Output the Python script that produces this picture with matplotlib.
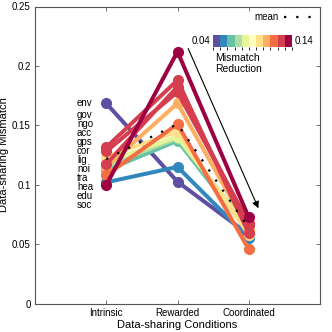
import matplotlib
matplotlib.use("Agg")
import matplotlib.pyplot as plt
import numpy as np
from matplotlib.colors import ListedColormap, BoundaryNorm
import matplotlib as mpl

plt.rcParams['font.family'] = ['Liberation Sans', 'DejaVu Sans']

conditions = ["Intrinsic", "Rewarded", "Coordinated"]
sectors = ["env", "gov", "ngo", "acc", "gps", "cor", "lig", "noi", "tra", "hea", "edu", "soc"]

# each line: mismatch at Intrinsic, Rewarded, Coordinated
intrinsic   = [0.1685, 0.102, 0.112, 0.116, 0.119, 0.1236, 0.115, 0.108, 0.1315, 0.1174, 0.128, 0.0997]
rewarded    = [0.1025, 0.115, 0.137, 0.139, 0.1405, 0.1446, 0.1685, 0.151, 0.188, 0.1825, 0.178, 0.212]
coordinated = [0.058, 0.055, 0.060, 0.064, 0.062, 0.058, 0.062, 0.0456, 0.059, 0.066, 0.068, 0.0725]
reduction   = [0.0445, 0.0536, 0.0627, 0.0718, 0.0809, 0.0991, 0.1082, 0.1173, 0.1264, 0.1264, 0.1264, 0.1355]
mean_vals   = [0.1216, 0.151, 0.0635]

spectral11 = ["#5e4fa2", "#3288bd", "#66c2a5", "#abdda4", "#e6f598", "#ffffbf",
              "#fee08b", "#fdae61", "#f46d43", "#d53e4f", "#9e0142"]
cmap = ListedColormap(spectral11)
norm = BoundaryNorm(np.linspace(0.04, 0.14, 12), cmap.N)

fig = plt.figure(figsize=(3.32, 3.32), dpi=100)
ax = fig.add_axes([35/332, (332-303.5)/332, 285/332, 297/332])

xs = np.arange(1, 4)
order = np.argsort(reduction, kind="stable")
for i in order:
    ys = [intrinsic[i], rewarded[i], coordinated[i]]
    c = cmap(norm(reduction[i]))
    ax.plot(xs, ys, color=c, lw=2.9, marker='o', ms=7, solid_capstyle='round', zorder=2 + i * 0.01)

ax.plot(xs, mean_vals, color='black', lw=1.6, linestyle=(0, (1, 4.5)), zorder=5, label='mean')

# sector labels
lab_x = 0.59
ys_lab = [intrinsic[0]] + list(0.159 - 0.0076 * np.arange(len(sectors) - 1))
for name, yl in zip(sectors, ys_lab):
    ax.text(lab_x, yl, name, fontsize=7, ha='left', va='center', zorder=6)

ax.annotate("", xy=(3.136, 0.0801), xytext=(2.15, 0.2146),
            arrowprops=dict(arrowstyle='-|>', color='black', lw=0.8,
                            mutation_scale=10, shrinkA=0, shrinkB=0), zorder=6)

ax.set_xlim(0, 4)
ax.set_ylim(0, 0.25)
ax.set_xticks(xs)
ax.set_xticklabels(conditions)
ax.set_yticks([0, 0.05, 0.1, 0.15, 0.2, 0.25])
ax.set_yticklabels(["0", "0.05", "0.1", "0.15", "0.2", "0.25"])
ax.tick_params(direction='in', length=3, width=0.6, top=True, right=True,
               labelsize=7, pad=3, color='#555555')
for s in ax.spines.values():
    s.set_color('#555555')
    s.set_linewidth(0.8)
ax.set_xlabel("Data-sharing Conditions", fontsize=8, labelpad=2)
ax.set_ylabel("Data-sharing Mismatch", fontsize=8)
ax.yaxis.set_label_coords(-0.092, 0.5)

leg = ax.legend(loc='upper right', frameon=False, markerfirst=False, fontsize=7,
                handlelength=2.8, handletextpad=0.6, borderaxespad=0.2,
                bbox_to_anchor=(0.99, 1.0))

cax = fig.add_axes([213/332, (332-47)/332, 79/332, 12/332])
cb = mpl.colorbar.ColorbarBase(cax, cmap=cmap, norm=norm, orientation='horizontal')
cb.set_ticks([])
cb.outline.set_visible(False)
fig.text(210/332, 1 - 41/332, "0.04", fontsize=7, ha='right', va='center')
fig.text(295/332, 1 - 41/332, "0.14", fontsize=7, ha='left', va='center')
fig.text(215/332, 1 - 58/332, "Mismatch", fontsize=7.5, ha='left', va='center')
fig.text(215/332, 1 - 69.5/332, "Reduction", fontsize=7.5, ha='left', va='center')

fig.savefig("out.png", dpi=100)
